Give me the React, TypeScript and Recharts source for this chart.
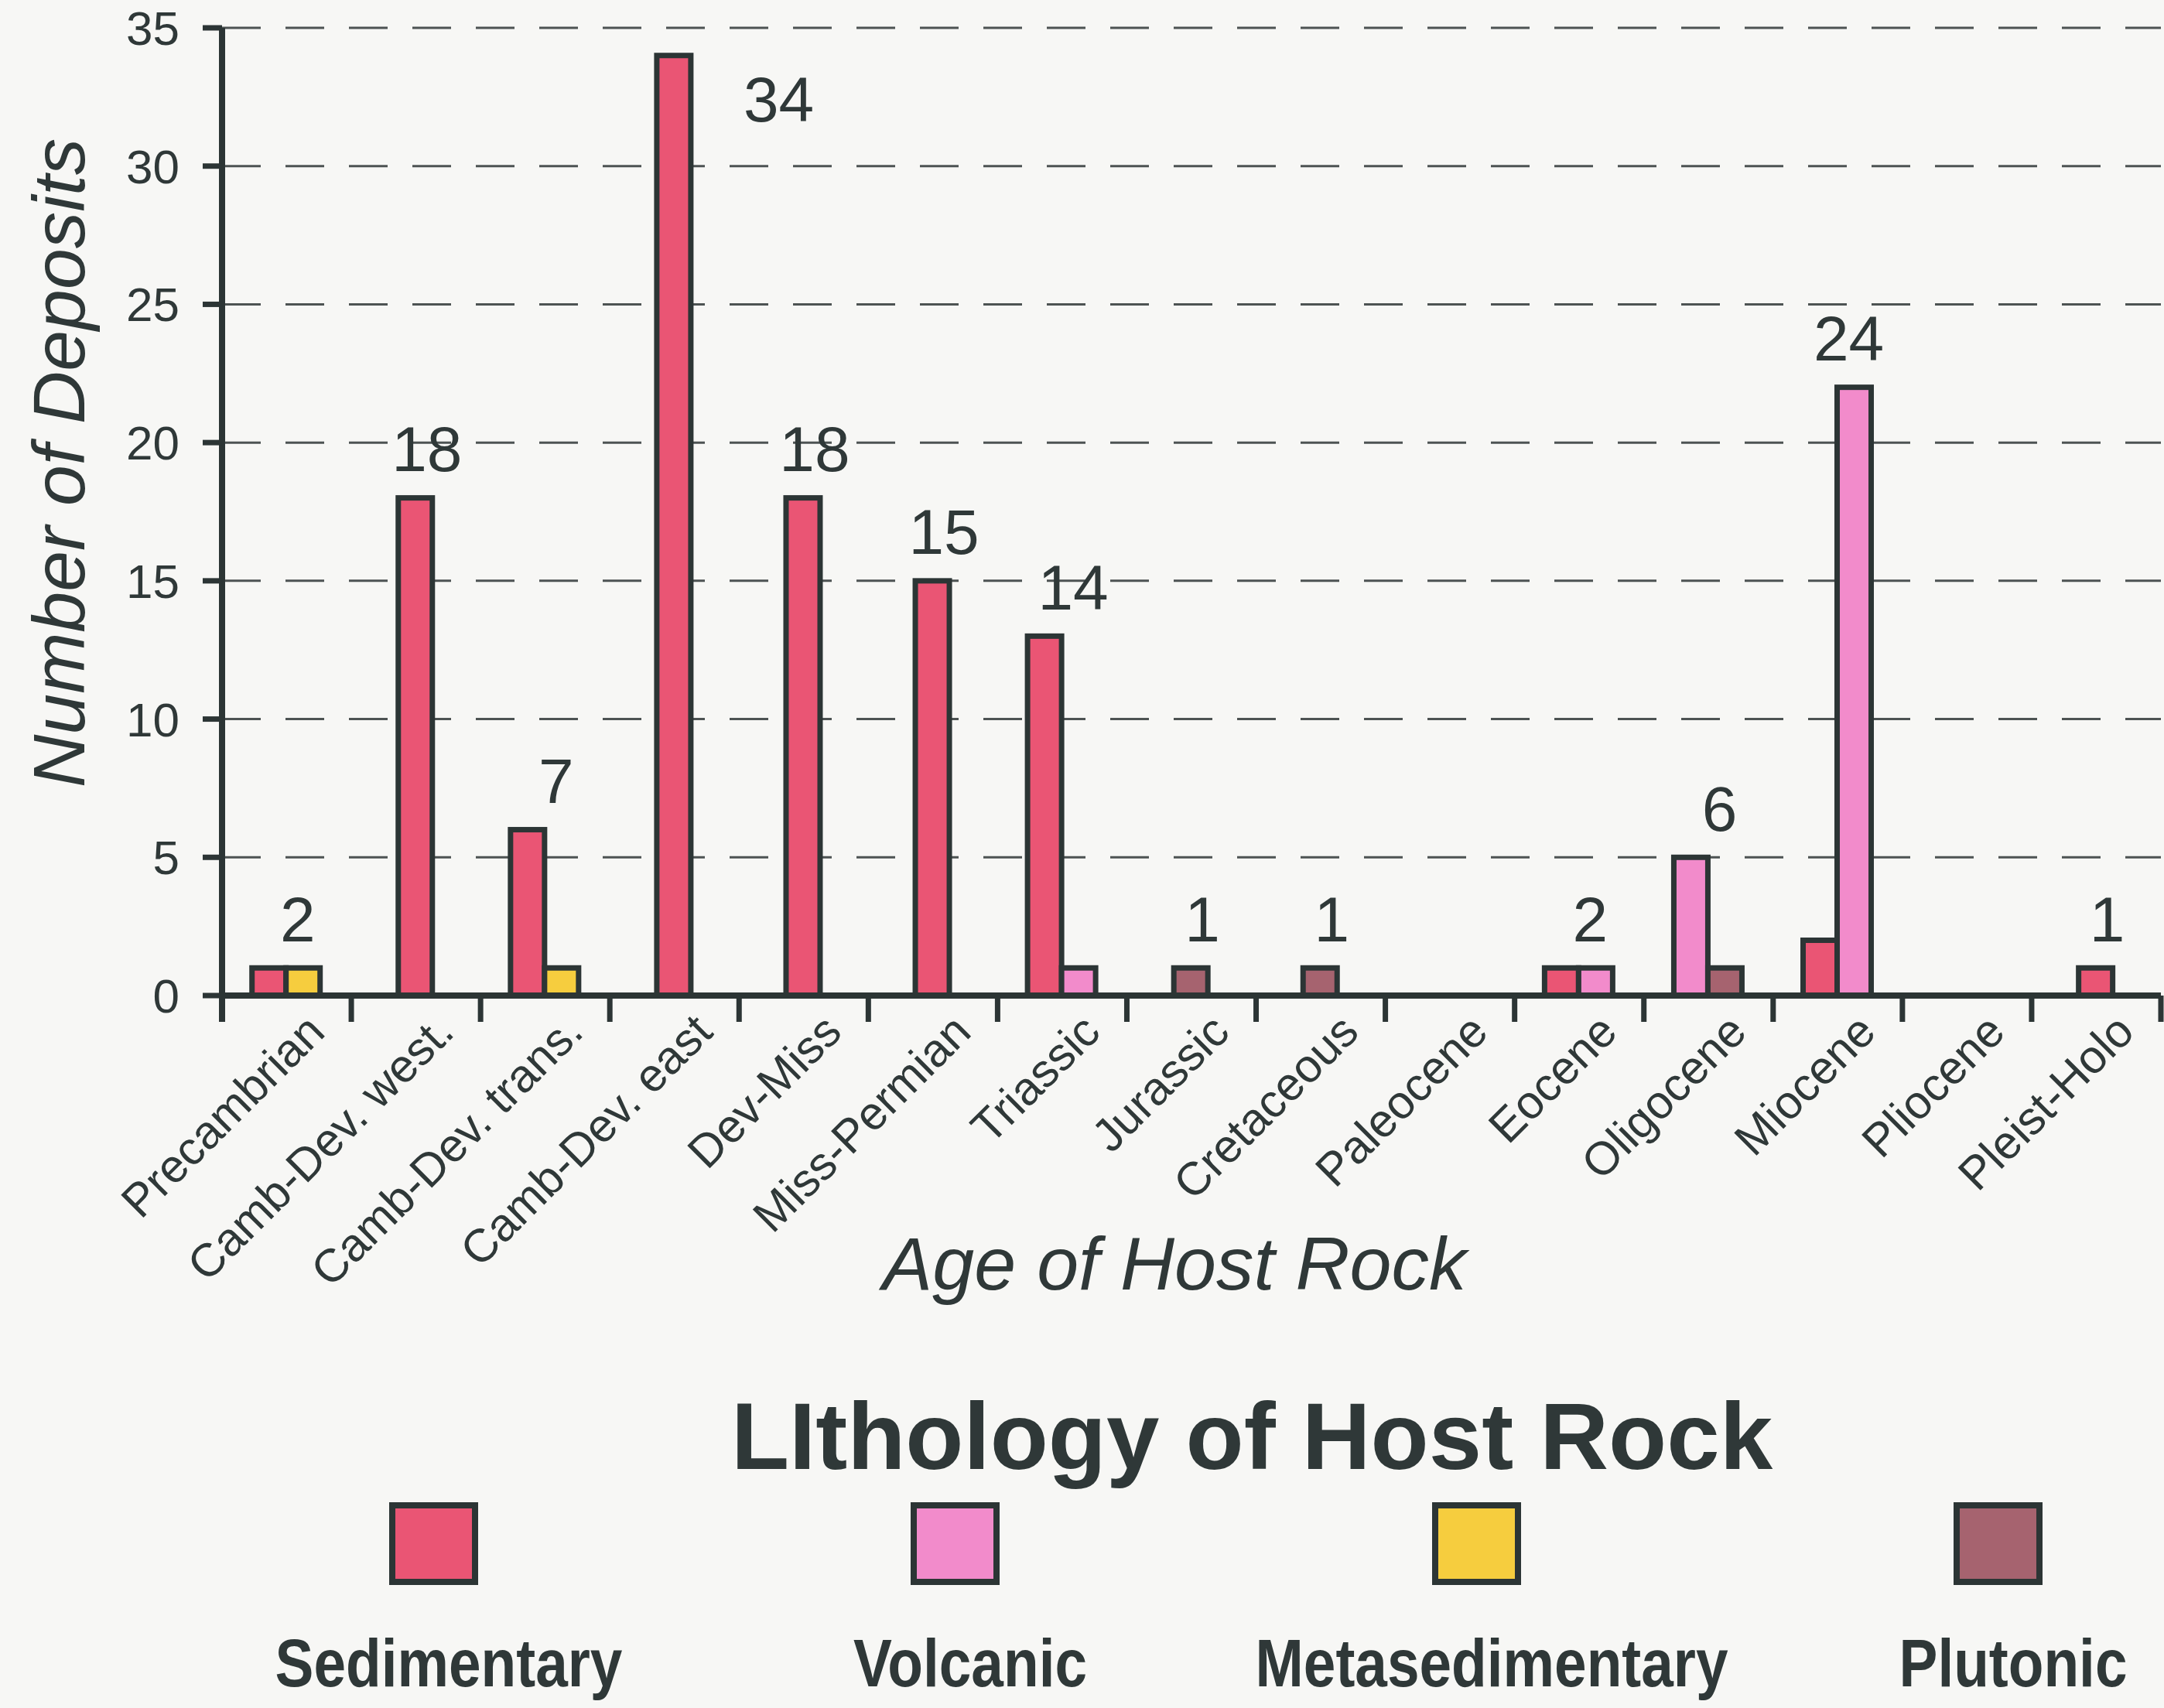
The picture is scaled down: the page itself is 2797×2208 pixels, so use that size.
import React from 'react';
import { BarChart, Bar, XAxis, YAxis, CartesianGrid, LabelList, Label } from 'recharts';

const categories = [
  'Precambrian',
  'Camb-Dev. west.',
  'Camb-Dev. trans.',
  'Camb-Dev. east',
  'Dev-Miss',
  'Miss-Permian',
  'Triassic',
  'Jurassic',
  'Cretaceous',
  'Paleocene',
  'Eocene',
  'Oligocene',
  'Miocene',
  'Pliocene',
  'Pleist-Holo',
];
const sedimentary = [1, 18, 6, 34, 18, 15, 13, 0, 0, 0, 1, 0, 2, 0, 1];
const volcanic = [0, 0, 0, 0, 0, 0, 1, 0, 0, 0, 1, 5, 22, 0, 0];
const metasedimentary = [1, 0, 1, 0, 0, 0, 0, 0, 0, 0, 0, 0, 0, 0, 0];
const plutonic = [0, 0, 0, 0, 0, 0, 0, 1, 1, 0, 0, 1, 0, 0, 0];
const yTicks = [0, 5, 10, 15, 20, 25, 30, 35];

const series = [
  { key: 'sed', name: 'Sedimentary', values: sedimentary, color: '#ea5574' },
  { key: 'volc', name: 'Volcanic', values: volcanic, color: '#f28bcb' },
  { key: 'meta', name: 'Metasedimentary', values: metasedimentary, color: '#f6cd3e' },
  { key: 'plut', name: 'Plutonic', values: plutonic, color: '#a6636f' },
];

const data = categories.map((age, i) => {
  const row: Record<string, any> = { age };
  series.forEach((s) => (row[s.key] = s.values[i]));
  return row;
});

// page / plot geometry
const W = 2797;
const H = 2208;
const CHART_H = 1720;
const PLOT_LEFT = 287;
const PLOT_TOP = 36;
const RIGHT = 4;
const PLOT_BOTTOM = 1287;
const BAND = (W - PLOT_LEFT - RIGHT) / categories.length;

const INK = '#2c3535';
const TEXT = '#2f3838';
const BW = 44;
const FONT = '"Liberation Sans", Arial, sans-serif';

// where a series' bar sits inside its category: only non-zero series take a slot
function slot(row: any, key: string) {
  const present = series.filter((s) => row[s.key] > 0).map((s) => s.key);
  return { k: present.indexOf(key), n: present.length };
}

function makeShape(si: number) {
  return (props: any) => {
    const { x, y, width, height, payload, fill } = props;
    if (!height || height <= 0) return <g />;
    const center = x + width / 2 + (1.5 - si) * width;
    const { k, n } = slot(payload, series[si].key);
    const left = center - (n * BW) / 2 + k * BW;
    return <rect x={left} y={y} width={BW} height={height} fill={fill} stroke={INK} strokeWidth={7} />;
  };
}

function makeLabel(si: number) {
  return (props: any) => {
    const vb = props.viewBox || props;
    const x = vb.x ?? props.x;
    const y = vb.y ?? props.y;
    const width = vb.width ?? props.width;
    const index = props.index ?? Math.floor((x - PLOT_LEFT) / BAND);
    const row = data[index];
    if (!row) return null;
    const vals = series.map((s) => row[s.key]);
    const max = Math.max(...vals);
    if (max === 0 || vals.indexOf(max) !== si) return null;
    const total = vals.reduce((a, b) => a + b, 0);
    const center = x + width / 2 + (1.5 - si) * width;
    const fs = 82;
    let cx = center + 15;
    let cy = y - 64;
    let anchor = 'middle';
    if (cy - fs * 0.4 < PLOT_TOP) {
      cx = center + 90;
      cy = y + 56;
      anchor = 'start';
    }
    return (
      <text x={cx} y={cy + fs * 0.36} textAnchor={anchor} fontSize={fs} fill={TEXT} fontFamily={FONT}>
        {total}
      </text>
    );
  };
}

const XTick = (props: any) => {
  const { x, y, payload, index } = props;
  const half = BAND / 2;
  const ax = x + 52;
  const ay = y + 50;
  return (
    <g>
      <line x1={x + half} x2={x + half} y1={y} y2={y + 34} stroke={INK} strokeWidth={7} />
      {index === 0 && <line x1={x - half} x2={x - half} y1={y} y2={y + 34} stroke={INK} strokeWidth={8} />}
      <text
        x={ax}
        y={ay}
        transform={`rotate(-45 ${ax} ${ay})`}
        textAnchor="end"
        fontSize={60}
        fill={TEXT}
        fontFamily={FONT}
      >
        {payload.value}
      </text>
    </g>
  );
};

export default function App() {
  const itemX = (i: number) => 560 + i * 674;
  return (
    <div style={{ position: 'absolute', left: 0, top: 0, width: W, height: H, background: '#f7f7f5', fontFamily: FONT }}>
      <BarChart
        width={W}
        height={CHART_H}
        data={data}
        margin={{ top: PLOT_TOP, right: RIGHT, bottom: 0, left: 0 }}
        barGap={0}
        barCategoryGap="10%"
      >
        <CartesianGrid vertical={false} stroke="#4d5353" strokeWidth={3} strokeDasharray="50 32" />
        <XAxis
          dataKey="age"
          height={CHART_H - PLOT_BOTTOM}
          tick={<XTick />}
          tickLine={false}
          tickSize={0}
          tickMargin={0}
          interval={0}
          axisLine={{ stroke: INK, strokeWidth: 8 }}
        >
          <Label
            content={(p: any) => {
              const vb = p.viewBox;
              const cx = vb.x + vb.width / 2 - 22;
              const cy = vb.y + 345;
              return (
                <text x={cx} y={cy + 97 * 0.36} textAnchor="middle" fontSize={97} fontStyle="italic" fill={TEXT} fontFamily={FONT}>
                  Age of Host Rock
                </text>
              );
            }}
          />
        </XAxis>
        <XAxis xAxisId="frame" orientation="top" dataKey="age" height={0} tick={false} tickLine={false} axisLine={{ stroke: INK, strokeWidth: 8 }} />
        <YAxis
          width={PLOT_LEFT}
          domain={[0, 35]}
          ticks={yTicks}
          interval={0}
          tickSize={25}
          tickMargin={30}
          tick={{ fontSize: 62, fill: TEXT, fontFamily: FONT }}
          tickLine={{ stroke: INK, strokeWidth: 7 }}
          axisLine={{ stroke: INK, strokeWidth: 8 }}
        >
          <Label
            content={(p: any) => {
              const vb = p.viewBox;
              const cx = vb.x + 75;
              const cy = vb.y + vb.height / 2 - 63;
              return (
                <text
                  transform={`translate(${cx} ${cy}) rotate(-90)`}
                  dy={95 * 0.36}
                  textAnchor="middle"
                  fontSize={95}
                  fontStyle="italic"
                  fill={TEXT}
                  fontFamily={FONT}
                >
                  Number of Deposits
                </text>
              );
            }}
          />
        </YAxis>
        <YAxis yAxisId="frame" orientation="right" width={0} domain={[0, 35]} tick={false} tickLine={false} axisLine={{ stroke: INK, strokeWidth: 8 }} />
        {series.map((s, si) => (
          <Bar key={s.key} dataKey={s.key} name={s.name} fill={s.color} shape={makeShape(si)} isAnimationActive={false}>
            <LabelList dataKey={s.key} content={makeLabel(si)} />
          </Bar>
        ))}
      </BarChart>
      <svg width={W} height={H - CHART_H} style={{ position: 'absolute', left: 0, top: CHART_H }}>
        <text x={1618} y={179} textAnchor="middle" fontSize={123} fontWeight="bold" fill={TEXT} fontFamily={FONT}>
          LIthology of Host Rock
        </text>
        {series.map((s, i) => (
          <g key={s.key}>
            <rect x={itemX(i) - 53} y={226} width={107} height={99} fill={s.color} stroke={INK} strokeWidth={8} />
            <text
              transform={`translate(${itemX(i) + 20} 460) scale(0.85 1)`}
              textAnchor="middle"
              fontSize={88}
              fontWeight="bold"
              fill={TEXT}
              fontFamily={FONT}
            >
              {s.name}
            </text>
          </g>
        ))}
      </svg>
    </div>
  );
}
